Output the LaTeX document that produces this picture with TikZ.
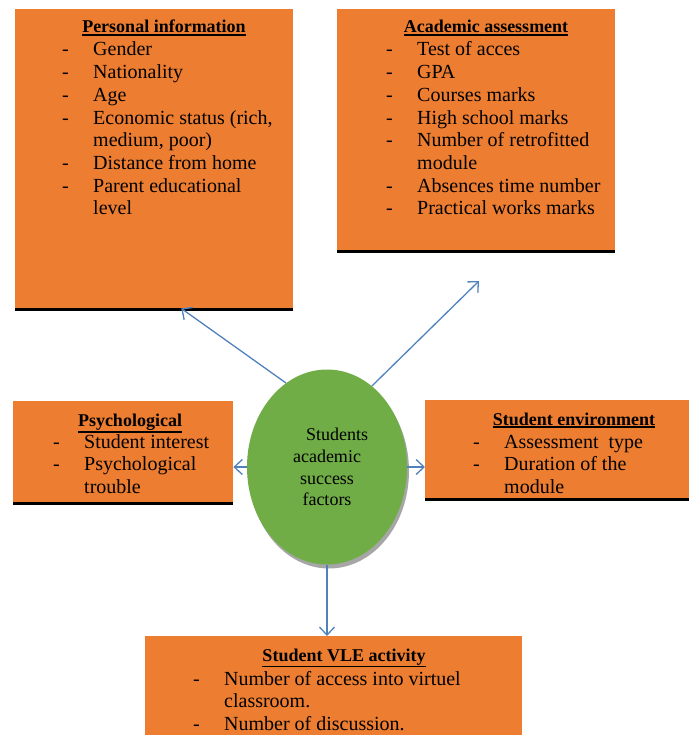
\documentclass[tikz,border=0pt]{standalone}
\usepackage{fontspec}
\setmainfont{Liberation Serif}
\usetikzlibrary{positioning,shapes.geometric,shadows,arrows.meta}
\definecolor{boxorange}{RGB}{237,125,49}
\definecolor{coregreen}{RGB}{112,173,71}
\definecolor{linkblue}{RGB}{79,129,189}
\newcommand{\undl}[1]{\leavevmode\vtop{\hbox{#1}\kern1.2pt\hrule height 1.4pt}}
\newcommand{\dashlist}[1]{\begin{tabular}[t]{@{}p{31pt}@{}l@{}}#1\end{tabular}}

\begin{document}
\begin{tikzpicture}[x=1pt, y=-1pt,
        factor/.style={rectangle, fill=boxorange, inner sep=0pt, anchor=north west, drop shadow={shadow xshift=0pt, shadow yshift=-3pt, fill=black, opacity=1}},
        ttl/.style={anchor=base, inner sep=0pt, font=\fontsize{18}{21}\selectfont\bfseries},
        items/.style={anchor=base west, inner sep=0pt, font=\fontsize{20}{22.7}\selectfont},
        core/.style={ellipse, fill=coregreen, inner sep=0pt, minimum width=160pt, minimum height=195pt, align=center, font=\fontsize{18}{21.7}\selectfont, drop shadow={shadow xshift=2pt, shadow yshift=-4pt, fill=black!35, opacity=1}},
        link/.style={-{Straight Barb[length=8pt,width=15pt]}, linkblue, line width=1.3pt}
    ]
        \useasboundingbox (0,0) rectangle (689,735);

        % Boxes
        \node (pers) [factor, minimum width=278pt, minimum height=299pt] at (15,9) {};
        \node (acad) [factor, minimum width=278pt, minimum height=241pt] at (337,9) {};
        \node (psych) [factor, minimum width=220pt, minimum height=101pt] at (13,401) {};
        \node (env) [factor, minimum width=264pt, minimum height=98pt] at (425,400) {};
        \node (vle) [factor, minimum width=377pt, minimum height=110pt] at (145,636) {};

        % Centre
        \node (core) [core] at (327,467) {\hspace*{20pt}Students\\academic\\success\\factors};

        % Texts
        \node (persT) [ttl] at (164,33) {\undl{Personal information}};
        \node (persL) [items] at (62,56) {\dashlist{- & Gender\\ - & Nationality\\ - & Age\\ - & Economic status (rich,\\ & medium, poor)\\ - & Distance from home\\ - & Parent educational\\ & level}};

        \node (acadT) [ttl] at (486,33) {\undl{Academic assessment}};
        \node (acadL) [items] at (386,56) {\dashlist{- & Test of acces\\ - & GPA\\ - & Courses marks\\ - & High school marks\\ - & Number of retrofitted\\ & module\\ - & Absences time number\\ - & Practical works marks}};

        \node (psychT) [ttl] at (130,426) {\undl{Psychological}};
        \node (psychL) [items] at (53,448) {\dashlist{- & Student interest\\ - & Psychological\\ & trouble}};

        \node (envT) [ttl] at (574,425) {\undl{Student environment}};
        \node (envL) [items] at (473,448) {\dashlist{- & Assessment\ \ type\\ - & Duration of the\\ & module}};

        \node (vleT) [ttl] at (344,661) {\undl{Student VLE activity}};
        \node (vleL) [items] at (193,685) {\dashlist{- & Number of access into virtuel\\ & classroom.\\ - & Number of discussion.}};

        % Arrows
        \coordinate (persin) at ([xshift=27pt]pers.south);
        \coordinate (acadin) at (479,281);
        \draw [link] (core.116) -- (persin);
        \draw [link] (core.61) -- (acadin);
        \draw [link] (core.west) -- (core.west -| psych.east);
        \draw [link] (core.east) -- (core.east -| env.west);
        \draw [link] (core.south) -- (core.south |- vle.north);
    \end{tikzpicture}
\end{document}
